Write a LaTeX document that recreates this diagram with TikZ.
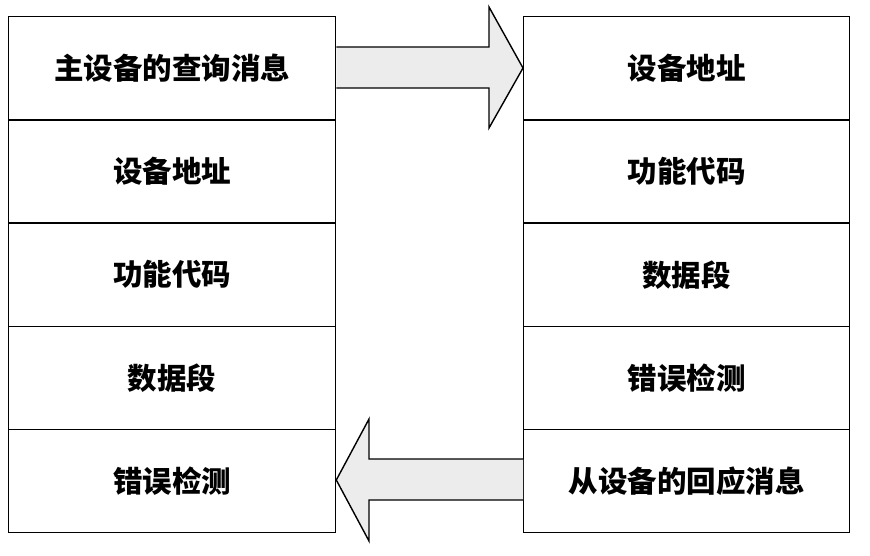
\documentclass[tikz,border=0pt]{standalone}
\usepackage{fontspec}
\newfontfamily\cjk{Noto Sans CJK SC}
\begin{document}
\begin{tikzpicture}[x=1pt,y=-1pt,
  cell/.style={draw=black,line width=1.3pt,minimum width=327pt,minimum height=103.2pt,inner sep=0pt,anchor=north west,font=\cjk\bfseries\fontsize{29.5}{32}\selectfont},
  bigarrow/.style={draw=black,line width=1.4pt,fill=gray!15,line join=miter}]
\useasboundingbox (0,0) rectangle (870,555);
\foreach \t [count=\i from 0] in {主设备的查询消息,设备地址,功能代码,数据段,错误检测}{
  \node[cell] (L\i) at (8,16+103.2*\i) {\t};
}
\foreach \t [count=\i from 0] in {设备地址,功能代码,数据段,错误检测,从设备的回应消息}{
  \node[cell,minimum width=326pt] (R\i) at (523,16+103.2*\i) {\t};
}
\draw[bigarrow] (L0.east |- 0,47) -- (489,47) -- (489,7) -- (R0.west |- 0,68) -- (489,128) -- (489,88) -- (L0.east |- 0,88);
\draw[bigarrow] (R4.west |- 0,459) -- (369,459) -- (369,419) -- (L4.east |- 0,480) -- (369,541) -- (369,500) -- (R4.west |- 0,500);
\end{tikzpicture}
\end{document}
